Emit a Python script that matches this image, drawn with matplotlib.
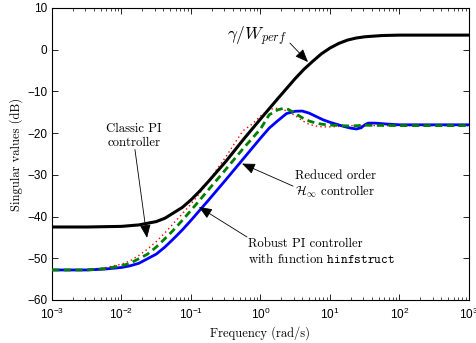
import numpy as np
import matplotlib
matplotlib.use("Agg")
import matplotlib.pyplot as plt
from matplotlib.ticker import FixedLocator, FixedFormatter, LogLocator, NullFormatter

plt.rcParams['mathtext.fontset'] = 'custom'
plt.rcParams['mathtext.rm'] = 'Liberation Sans'
plt.rcParams['mathtext.it'] = 'Liberation Sans:italic'
plt.rcParams['mathtext.bf'] = 'Liberation Sans:bold'
plt.rcParams['mathtext.sf'] = 'Liberation Sans'
plt.rcParams['axes.unicode_minus'] = True

# ---- data (log10 of frequency in rad/s, singular value in dB) ----
black_logw = [-3.0, -2.5, -2.0, -1.75, -1.5, -1.375, -1.25, -1.125, -1.0, -0.875, -0.75,
              -0.5, -0.25, 0.0, 0.25, 0.5, 0.625, 0.75, 0.875, 1.0, 1.125, 1.25, 1.375,
              1.5, 1.75, 2.0, 2.5, 3.0]
black_db = [-42.5, -42.5, -42.35, -42.0, -41.2, -40.4, -39.1, -37.8, -36.0, -33.9, -31.6,
            -26.8, -21.6, -16.6, -11.7, -6.9, -4.7, -2.8, -1.0, 0.4, 1.5, 2.3, 2.8,
            3.1, 3.4, 3.5, 3.5, 3.5]

blue_logw = [-3.0, -2.5, -2.25, -2.0, -1.875, -1.75, -1.625, -1.5, -1.375, -1.25, -1.125,
             -1.0, -0.75, -0.5, -0.25, 0.0, 0.125, 0.25, 0.375, 0.5, 0.6, 0.7, 0.8, 0.9,
             1.0, 1.1, 1.2, 1.3, 1.38, 1.45, 1.5, 1.55, 1.65, 1.8, 2.0, 2.5, 3.0]
blue_db = [-52.8, -52.8, -52.6, -52.2, -51.8, -51.2, -50.1, -49.0, -47.3, -45.3, -43.2,
           -40.9, -36.1, -31.2, -26.2, -21.2, -18.8, -17.0, -15.3, -14.75, -14.7, -15.2,
           -16.0, -16.8, -17.4, -17.9, -18.4, -18.8, -19.0, -18.7, -18.0, -17.6, -17.6,
           -17.8, -18.0, -18.0, -18.0]

green_logw = [-3.0, -2.5, -2.25, -2.0, -1.875, -1.75, -1.625, -1.5, -1.375, -1.25, -1.125,
              -1.0, -0.75, -0.5, -0.25, 0.0, 0.125, 0.25, 0.32, 0.4, 0.5, 0.6, 0.7, 0.8,
              0.9, 1.0, 1.15, 1.3, 1.5, 2.0, 3.0]
green_db = [-52.8, -52.8, -52.5, -51.8, -51.2, -50.1, -49.0, -47.3, -45.3, -43.2, -40.9,
            -38.5, -33.6, -28.7, -23.7, -19.0, -15.6, -14.4, -14.1, -14.3, -15.3, -16.3,
            -17.1, -17.6, -17.9, -18.05, -18.2, -18.3, -18.1, -18.2, -18.2]

red_logw = [-3.0, -2.5, -2.25, -2.0, -1.875, -1.75, -1.625, -1.5, -1.375, -1.25, -1.125,
            -1.0, -0.875, -0.75, -0.625, -0.5, -0.375, -0.25, -0.125, 0.0, 0.1, 0.2, 0.3,
            0.4, 0.5, 0.6, 0.7, 0.8, 0.9, 1.0, 1.1, 1.3, 1.6, 2.0, 3.0]
red_db = [-52.8, -52.7, -52.3, -51.4, -50.6, -49.3, -47.8, -46.0, -43.9, -41.6, -39.3,
          -37.0, -34.4, -31.6, -28.6, -25.7, -22.5, -19.4, -17.9, -15.9, -14.6, -14.0,
          -14.2, -14.8, -15.8, -17.0, -17.9, -18.3, -18.5, -18.5, -18.4, -18.2, -18.2,
          -18.2, -18.2]

xtick_vals = [1e-3, 1e-2, 1e-1, 1e0, 1e1, 1e2, 1e3]
xtick_labels = [r'$10^{-3}$', r'$10^{-2}$', r'$10^{-1}$', r'$10^{0}$', r'$10^{1}$',
                r'$10^{2}$', r'$10^{3}$']
ytick_vals = [-60, -50, -40, -30, -20, -10, 0, 10]

# ---- figure ----
fig = plt.figure(figsize=(4.77, 3.43), dpi=100)
ax = fig.add_axes([52/477, 1-300/343, (469-52)/477, (300-8)/343])

def w(lw):
    return 10.0 ** np.asarray(lw)

ax.semilogx(w(red_logw), red_db, color='red', lw=1.0, ls=(0, (1, 2.2)), zorder=2)
ax.semilogx(w(blue_logw), blue_db, color='blue', lw=2.0, zorder=3)
ax.semilogx(w(green_logw), green_db, color='green', lw=2.0, ls=(0, (2.6, 1.6)), zorder=4)
ax.semilogx(w(black_logw), black_db, color='black', lw=2.2, zorder=5)

ax.set_xlim(1e-3, 1e3)
ax.set_ylim(-60, 10)
ax.xaxis.set_major_locator(FixedLocator(xtick_vals))
ax.xaxis.set_major_formatter(FixedFormatter(xtick_labels))
ax.xaxis.set_minor_locator(LogLocator(base=10, subs=np.arange(2, 10), numticks=20))
ax.xaxis.set_minor_formatter(NullFormatter())
ax.set_yticks(ytick_vals)
ax.tick_params(which='both', direction='in', top=True, right=True)
ax.tick_params(which='major', length=4, width=0.6, labelsize=8.5)
ax.tick_params(which='minor', length=2, width=0.5)
ax.tick_params(axis='x', which='major', pad=5)
for lab in ax.get_yticklabels() + ax.get_xticklabels():
    lab.set_fontfamily('Liberation Sans')
for sp in ax.spines.values():
    sp.set_linewidth(0.8)

ax.set_xlabel('Frequency (rad/s)', family='cmr10', fontsize=9, labelpad=3)
ax.set_ylabel('Singular values (dB)', family='cmr10', fontsize=9, labelpad=3)

arrow = dict(arrowstyle='-|>,head_length=0.8,head_width=0.33', color='black', lw=0.6,
             shrinkA=0, shrinkB=0)
txt = dict(family='cmr10', math_fontfamily='cm', fontsize=9.2, linespacing=1.2)

# gamma / W_perf
ax.text(2.40, 3.3, r'$\gamma/W_{perf}$', math_fontfamily='cm', fontsize=12.5,
        va='center', ha='right')
ax.annotate('', xy=(4.82, -2.95), xytext=(2.65, 1.6), arrowprops=arrow)

# Classic PI
ax.text(0.0151, -20.6, 'Classic PI\ncontroller', ha='center', va='center',
        multialignment='center', **txt)
ax.annotate('', xy=(0.0233, -45.1), xytext=(0.0156, -23.9), arrowprops=arrow)

# Reduced order
ax.text(3.13, -32.4, 'Reduced order\n' + r'$\mathcal{H}_\infty$ controller',
        ha='left', va='center', multialignment='left', **txt)
ax.annotate('', xy=(0.542, -27.3), xytext=(2.94, -32.7), arrowprops=arrow)

# Robust PI
ax.text(0.66, -48.5, 'Robust PI controller\nwith function ' + r'$\mathtt{hinfstruct}$',
        ha='left', va='center', multialignment='left', **txt)
ax.annotate('', xy=(0.130, -37.7), xytext=(0.64, -44.9), arrowprops=arrow)

fig.savefig('out.png', dpi=100)
